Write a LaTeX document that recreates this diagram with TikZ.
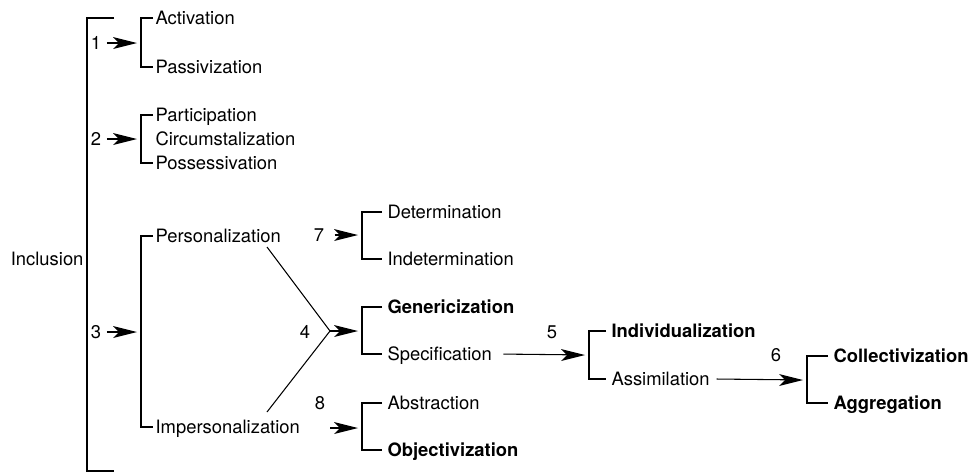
\documentclass[tikz,border=0pt]{standalone}
\usepackage{fontspec}
\setmainfont{TeX Gyre Heros}
\newcommand\myhead[1]{\fill ([xshift=-3pt]#1) -- ++(-24,-6) -- ++(6,6) -- ++(-6,6) -- cycle;}
\begin{document}
\begin{tikzpicture}[x=0.75pt,y=-0.75pt,line width=0.8pt,
  txt/.style={inner ysep=0pt,text height=9.9pt,text depth=0pt,font=\fontsize{13.8}{16}\selectfont},
  lbl/.style={txt,anchor=west,inner xsep=1.5pt},
  lblw/.style={txt,anchor=west,inner xsep=3.75pt},
  bld/.style={font=\fontsize{13.8}{16}\selectfont\bfseries},
  num/.style={txt,inner xsep=0pt},
  arr/.style={shorten >=10pt}]
\path[use as bounding box] (0,0) rectangle (971,472);

% main bracket
\coordinate (mt) at (114,18);
\coordinate (mtc) at (87,18);
\coordinate (mbc) at (87,471);
\coordinate (mb) at (114,471);
\draw (mt) -- (mtc) -- (mbc) -- (mb);
\node[txt,anchor=east,inner xsep=1.5pt] (inc) at (86,259) {Inclusion};

% group 1
\node[lbl] (act) at (153,18) {Activation};
\node[lbl] (pas) at (153,67) {Passivization};
\coordinate (b1) at (141,43);
\node[num] (n1) at (96,43) {1};
\draw (act.west) -| (b1) |- (pas.west);
\draw[arr,shorten <=4pt] (n1) -- (b1);
\myhead{b1}

% group 2
\node[lbl] (par) at (153,115) {Participation};
\node[lbl] (cir) at (153,139) {Circumstalization};
\node[lbl] (pos) at (153,163) {Possessivation};
\coordinate (b2) at (141,139);
\node[num] (n2) at (96,139) {2};
\draw (par.west) -| (b2) |- (pos.west);
\draw[arr,shorten <=4pt] (n2) -- (b2);
\myhead{b2}

% group 3
\node[lbl] (per) at (153,236) {Personalization};
\node[lbl] (imp) at (153,427) {Impersonalization};
\coordinate (b3) at (141,332);
\node[num] (n3) at (96,332) {3};
\draw (per.west) -| (b3) |- (imp.west);
\draw[arr,shorten <=4pt] (n3) -- (b3);
\myhead{b3}

% group 7
\node[lblw] (det) at (382,212) {Determination};
\node[lblw] (ind) at (382,259) {Indetermination};
\coordinate (b7) at (362,235);
\node[num] (n7) at (319,235) {7};
\draw (det.west) -| (b7) |- (ind.west);
\draw[arr,shorten <=7.5pt] (n7) -- (b7);
\myhead{b7}

% group 4
\coordinate (d1) at (267,247);
\coordinate (apex) at (330,331);
\coordinate (d2) at (267,412);
\draw (d1) -- (apex) -- (d2);
\node[num] (n4) at (305,332) {4};
\node[lblw,bld] (gen) at (382,307) {Genericization};
\node[lblw] (spe) at (382,354) {Specification};
\coordinate (b4) at (362,331);
\draw (gen.west) -| (b4) |- (spe.west);
\draw[arr] (apex) -- (b4);
\myhead{b4}

% group 8
\node[num] (n8) at (320,403) {8};
\node[lblw] (abs) at (382,403) {Abstraction};
\node[lblw,bld] (obj) at (382,450) {Objectivization};
\coordinate (a8) at (330,428);
\coordinate (b8) at (362,428);
\draw (abs.west) -| (b8) |- (obj.west);
\draw[arr] (a8) -- (b8);
\myhead{b8}

% group 5
\node[num] (n5) at (552,332) {5};
\node[lblw,bld] (idv) at (606,331) {Individualization};
\node[lblw] (ass) at (606,379) {Assimilation};
\coordinate (b5) at (589,355);
\draw (idv.west) -| (b5) |- (ass.west);
\draw[arr,shorten <=4.5pt] (spe.east) -- (b5);
\myhead{b5}

% group 6
\node[num] (n6) at (776,355) {6};
\node[lblw,bld] (col) at (828,356) {Collectivization};
\node[lblw,bld] (agg) at (828,403) {Aggregation};
\coordinate (b6) at (807,380);
\draw (col.west) -| (b6) |- (agg.west);
\draw[arr,shorten <=1pt] (ass.east) -- (b6);
\myhead{b6}
\end{tikzpicture}
\end{document}
